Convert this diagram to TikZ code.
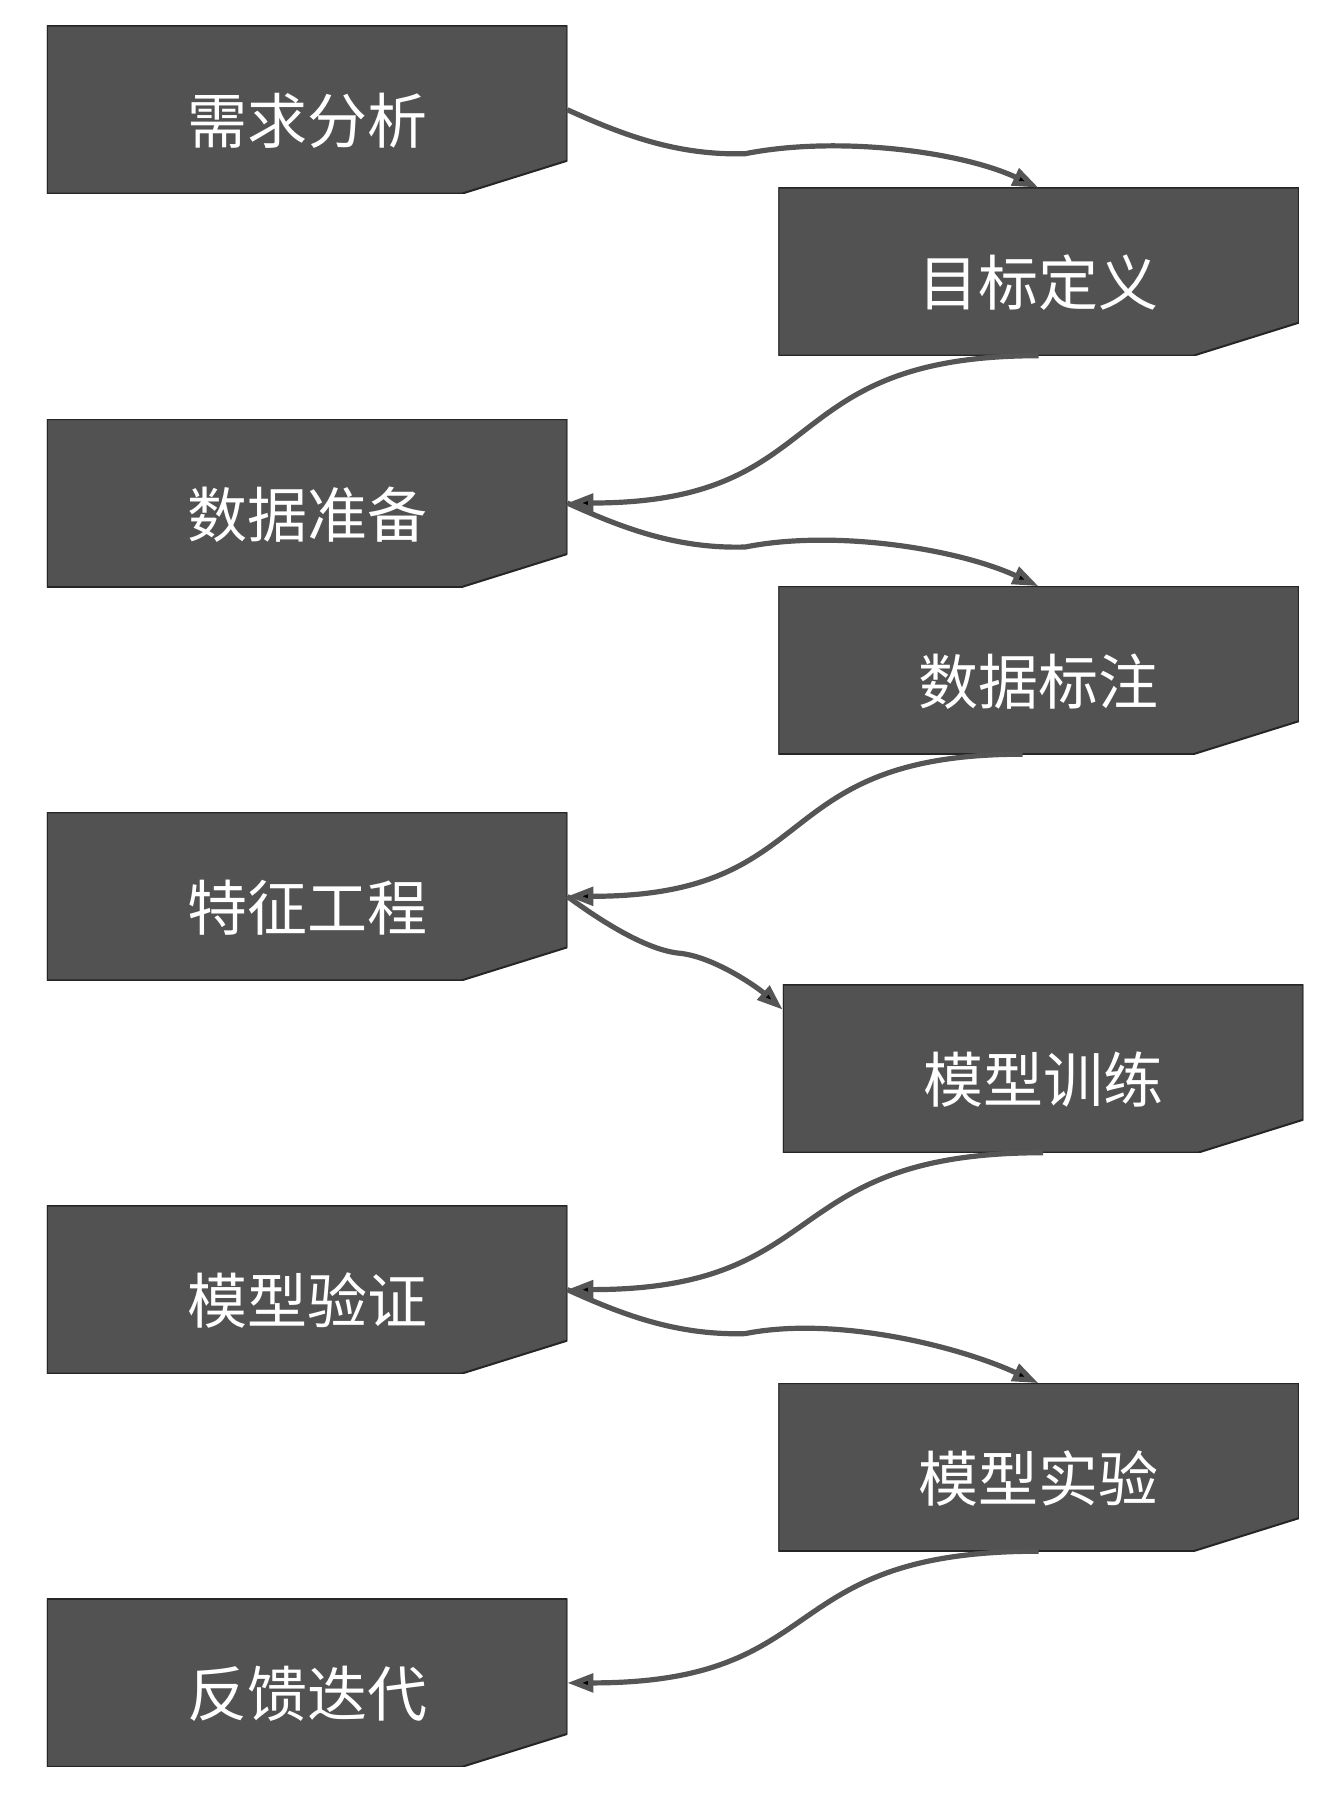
\documentclass[tikz,border=0pt]{standalone}
\usepackage{fontspec}
\newfontfamily\cjk{Noto Sans CJK SC}
\usetikzlibrary{arrows.meta}
\usetikzlibrary{positioning}
\usetikzlibrary{calc}
\definecolor{boxgray}{HTML}{525252}
\definecolor{linegray}{HTML}{555555}
\definecolor{rimgray}{HTML}{262626}

\begin{document}
\begin{tikzpicture}
    [x=0.5pt, y=0.5pt,
      % Stil für die Schritte (Ecke unten rechts abgeschnitten)
      stepbox/.style={rectangle, inner sep=0pt, outer sep=0pt,
        minimum width=260.25pt, minimum height=84pt,
        text=white, font=\cjk\fontsize{30}{36}\selectfont,
        text height=34pt, text depth=0pt,
        path picture={\filldraw[fill=boxgray, draw=rimgray, line width=1pt]
          (path picture bounding box.north west) -- (path picture bounding box.north east)
          -- ([yshift=16.5pt]path picture bounding box.south east)
          -- ([xshift=-52.75pt]path picture bounding box.south east)
          -- (path picture bounding box.south west) -- cycle;}},
      % Stil für die Pfeile
      flow/.style={draw=linegray, line width=2.6pt,
        -{Triangle[length=13pt, width=9pt, fill=black]}},
      node distance=112.65pt]
    \useasboundingbox (0,0) rectangle (1340,-1796);
    % Knoten
    \node[stepbox] (demand) at (307,-109.7) {需求分析};
    \node[stepbox, below right=-3pt and 105.5pt of demand] (goal) {目标定义};
    \node[stepbox, below=of demand] (dataprep) {数据准备};
    \node[stepbox, below right=-0.4pt and 105.5pt of dataprep] (annot) {数据标注};
    \node[stepbox, below=of dataprep] (feature) {特征工程};
    \node[stepbox, below right=2.2pt and 107.75pt of feature] (train) {模型训练};
    \node[stepbox, below=of feature] (valid) {模型验证};
    \node[stepbox, below right=4.8pt and 105.5pt of valid] (experiment) {模型实验};
    \node[stepbox, below=of valid] (feedback) {反馈迭代};

    % Kanten
    \draw[flow] (demand.east) .. controls +(53,-24) and +(-70,-2) .. ++(178,-44)
      .. controls +(90,18) and +(-80,37) .. (goal.north);
    \draw[flow] (goal.south) .. controls +(-268,0) and +(268,0) .. (dataprep.east);
    \draw[flow] (dataprep.east) .. controls +(53,-24) and +(-70,-2) .. ++(178,-44)
      .. controls +(90,18) and +(-80,37) .. (annot.north);
    \draw[flow] ([xshift=-8pt]annot.south) .. controls +(-260,0) and +(260,0) .. (feature.east);
    \draw[flow] (feature.east) .. controls +(30,-22) and +(-35,3) .. ++(113,-57)
      .. controls +(35,-4) and +(-25,22) .. ($(train.north west)+(0,-25)$);
    \draw[flow] (train.south) .. controls +(-268,0) and +(268,0) .. (valid.east);
    \draw[flow] (valid.east) .. controls +(53,-24) and +(-70,-2) .. ++(178,-44)
      .. controls +(90,18) and +(-80,37) .. (experiment.north);
    \draw[flow] (experiment.south) .. controls +(-268,0) and +(268,0) .. (feedback.east);
\end{tikzpicture}
\end{document}
